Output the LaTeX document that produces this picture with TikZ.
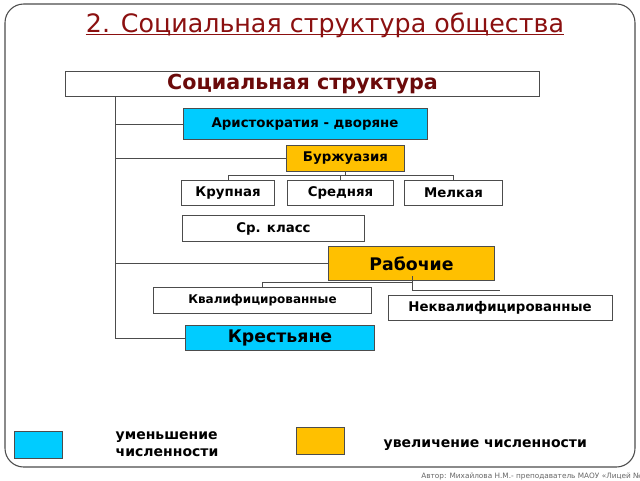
\documentclass[tikz,border=0pt]{standalone}
\usepackage{fontspec}
\setmainfont{DejaVu Sans}
\definecolor{aqua}{HTML}{00CCFF}
\definecolor{gold}{HTML}{FFC000}
\definecolor{maroon}{HTML}{6B0A0A}
\definecolor{brick}{HTML}{8B1010}
\tikzset{
  box/.style={draw=black!70, line width=0.6pt, inner sep=0pt, font=\bfseries\fontsize{10}{12}\selectfont},
  link/.style={draw=black!70, line width=0.6pt}
}
\begin{document}
\begin{tikzpicture}[x=0.75pt, y=-0.75pt]
  \useasboundingbox (0,0) rectangle (640,480);
  \draw[black!70, line width=0.8pt, rounded corners=14pt] (5,4) rectangle (635,467);
  \node [text=brick, font=\fontsize{19}{22}\selectfont, inner sep=0pt] (title) at (325,25) {2. Социальная структура общества};
  \draw [brick, line width=0.9pt] ([yshift=-2pt]title.base west) -- ([yshift=-2pt]title.base east);
  % main box
  \node [box, minimum width=356pt, minimum height=19pt, font=\bfseries\fontsize{15.5}{17}\selectfont, text=maroon] (soc) at (302.5,84) {Социальная структура};
  \node [box, fill=aqua, minimum width=183pt, minimum height=23pt] (aris) at (305,124) {Аристократия - дворяне};
  \node [box, fill=gold, minimum width=88pt, minimum height=19pt] (burzh) at (345.5,158.5) {Буржуазия};
  \node [box, fill=white, minimum width=70pt, minimum height=19pt] (krup) at (228,193) {Крупная};
  \node [box, fill=white, minimum width=80pt, minimum height=19pt] (sred) at (340.5,193) {Средняя};
  \node [box, fill=white, minimum width=73pt, minimum height=19pt] (melk) at (453.5,193) {Мелкая};
  \node [box, fill=white, minimum width=136pt, minimum height=19pt] (sr) at (273.5,228.5) {Ср. класс};
  \node [box, fill=gold, minimum width=124pt, minimum height=25pt, font=\bfseries\fontsize{13}{15}\selectfont] (rab) at (411.5,263.5) {Рабочие};
  \node [box, fill=white, minimum width=164pt, minimum height=19pt, font=\bfseries\fontsize{9}{11}\selectfont] (kval) at (262.5,300.5) {Квалифицированные};
  \node [box, fill=white, minimum width=168pt, minimum height=19pt] (nekval) at (500,308) {Неквалифицированные};
  \node [box, fill=aqua, minimum width=142pt, minimum height=19pt, font=\bfseries\fontsize{13}{15}\selectfont] (kr) at (280,338) {Крестьяне};
  % trunk
  \coordinate (top) at (115,97);
  \draw [link] (top) |- (kr.west);
  \draw [link] (top |- aris.west) -- (aris.west);
  \draw [link] (top |- burzh.west) -- (burzh.west);
  \draw [link] (top |- rab.west) -- (rab.west);
  % bourgeoisie
  \draw [link] (burzh.south) -- ++(0,4) coordinate (bm);
  \draw [link] (krup.north) -- ++(0,-5) -| (melk.north);
  \draw [link] (sred.north) -- ++(0,-5);
  % workers
  \draw [link] (kval.north) -- ++(0,-5) -| (412,276);
  \draw [link] (412,283) -- (412,290) -- (500,290);
  % legend
  \node [box, fill=aqua, minimum width=36pt, minimum height=20pt] (lcut) at (38,445) {};
  \node [anchor=west, align=left, font=\bfseries\fontsize{10.5}{12.5}\selectfont] (tcut) at (111,444) {уменьшение\\численности};
  \node [box, fill=gold, minimum width=36pt, minimum height=20pt] (lgrow) at (320,441) {};
  \node [anchor=west, font=\bfseries\fontsize{10.5}{12}\selectfont] (tgrow) at (379,445) {увеличение численности};
  \node [anchor=west, text=black!60, font=\fontsize{5.5}{6}\selectfont, inner sep=0pt] (author) at (421,476) {Автор: Михайлова Н.М.- преподаватель МАОУ «Лицей № 2»};
\end{tikzpicture}
\end{document}
